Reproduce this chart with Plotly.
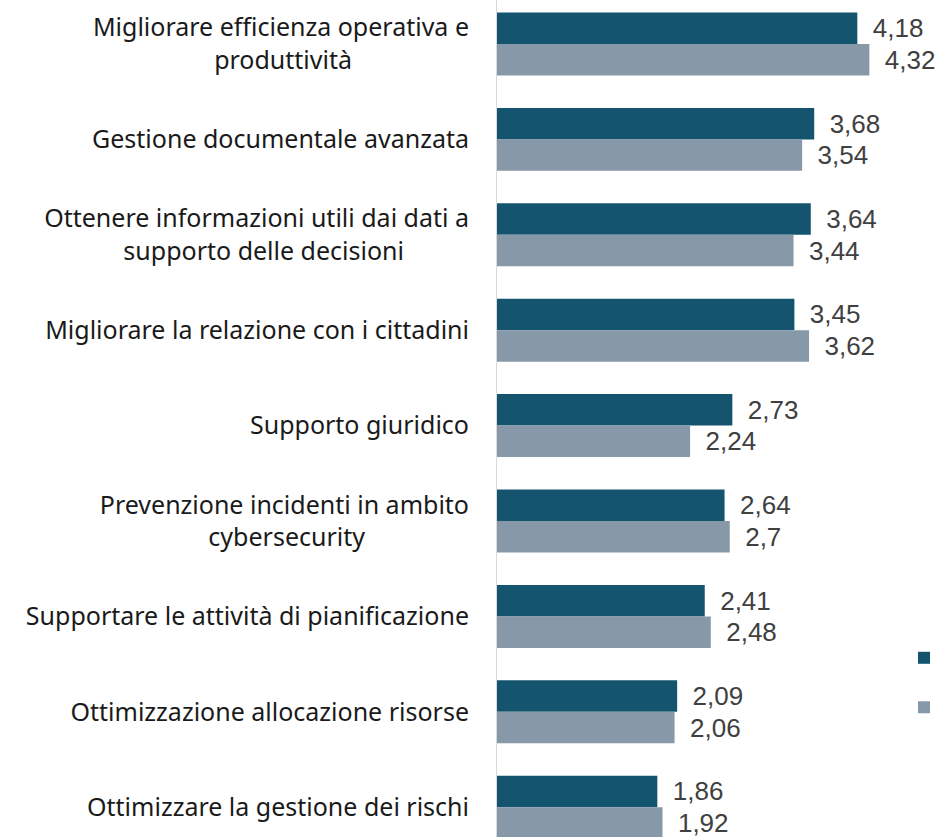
import plotly.graph_objects as go

NB = "\u00a0"
categories = [
    "Migliorare efficienza operativa e<br>produttività" + NB * 18,
    "Gestione documentale avanzata",
    "Ottenere informazioni utili dai dati a<br>supporto delle decisioni" + NB * 10,
    "Migliorare la relazione con i cittadini",
    "Supporto giuridico",
    "Prevenzione incidenti in ambito<br>cybersecurity" + NB * 16,
    "Supportare le attività di pianificazione",
    "Ottimizzazione allocazione risorse",
    "Ottimizzare la gestione dei rischi",
]
series_a_name = "Enti centrali"
series_b_name = "Enti locali"
series_a = [4.18, 3.68, 3.64, 3.45, 2.73, 2.64, 2.41, 2.09, 1.86]
series_b = [4.32, 3.54, 3.44, 3.62, 2.24, 2.70, 2.48, 2.06, 1.92]

def fmt(v):
    s = f"{v:.2f}".rstrip("0").rstrip(".")
    return " \u2009" + s.replace(".", ",")

label_font = dict(family="Liberation Sans, Arial", size=26, color="#404040")

fig = go.Figure()
fig.add_trace(go.Bar(
    y=categories, x=series_a, orientation="h", name=series_a_name,
    marker=dict(color="#14546f", line=dict(width=0)),
    text=[fmt(v) for v in series_a], textposition="outside",
    textfont=label_font, cliponaxis=False, legendgroup="a",
))
fig.add_trace(go.Bar(
    y=categories, x=series_b, orientation="h", name=series_b_name,
    marker=dict(color="#8798a9", line=dict(width=0)),
    text=[fmt(v) for v in series_b], textposition="outside",
    textfont=label_font, cliponaxis=False, legendgroup="b",
))

fig.update_layout(
    width=940, height=837,
    margin=dict(l=497, r=0, t=0, b=0, autoexpand=False),
    paper_bgcolor="white", plot_bgcolor="white",
    barmode="group", bargap=0.34, bargroupgap=0,
    font=dict(family="Noto Sans", size=25, color="#1a1a1a"),
    showlegend=True,
    legend=dict(
        orientation="v", x=0.9187, xanchor="left", y=0.2413, yanchor="top",
        font=dict(size=25, color="#404040"), tracegroupgap=14,
        bgcolor="rgba(0,0,0,0)",
    ),
)
fig.update_xaxes(range=[0, 443 / 86.2], showgrid=False, zeroline=False,
                 showticklabels=False, showline=False)
fig.update_yaxes(range=[8.312, -0.461], showgrid=False, zeroline=False,
                 showline=True, linecolor="#d9d9d9", linewidth=1,
                 ticks="", ticklabelstandoff=22,
                 tickfont=dict(family="Noto Sans", size=25, color="#1a1a1a"))

fig.write_html(
    "out.html",
    config={"displayModeBar": False},
    post_script="document.body.style.margin='0';document.body.style.overflow='hidden';",
)
